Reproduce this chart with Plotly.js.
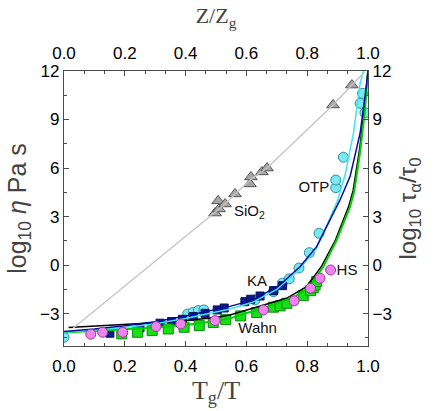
<!DOCTYPE html>
<html>
<head>
<meta charset="utf-8">
<script src="https://cdn.plot.ly/plotly-3.0.1.min.js"></script>
<style>
  html, body { margin: 0; padding: 0; background: #fff; }
  #plot { width: 435px; height: 411px; }
</style>
</head>
<body>
<div id="plot"></div>
<script>
// SiO2 (Arrhenius) points and guide line
var sioX = [0.497, 0.51, 0.507, 0.53, 0.5625, 0.612, 0.615, 0.651, 0.668, 0.885, 0.947];
var sioY = [3.22, 3.47, 3.97, 3.78, 4.4, 5.02, 5.45, 5.76, 6.0, 9.9, 11.13];
var sioLineX = [0.03, 0.497, 0.53, 0.5625, 0.615, 0.668, 0.885, 0.947, 0.99];
var sioLineY = [-3.9, 3.22, 3.78, 4.4, 5.3, 6.0, 9.9, 11.13, 11.95];

// OTP (cyan circles)
var otpX = [0, 0.407, 0.425, 0.442, 0.46, 0.628, 0.689, 0.718, 0.741, 0.773, 0.807, 0.839, 0.894, 0.894, 0.919, 0.99, 0.974, 0.982];
var otpY = [-4.46, -3.02, -2.92, -2.81, -2.77, -2.15, -1.64, -1.12, -0.85, -0.18, 0.77, 1.97, 4.79, 5.26, 6.67, 9.42, 10.0, 10.62];

// KA (navy squares)
var kaX = [0.151, 0.25, 0.316, 0.354, 0.39, 0.425, 0.464, 0.504, 0.527, 0.595, 0.614, 0.645, 0.689, 0.719];
var kaY = [-4.21, -3.88, -3.59, -3.49, -3.35, -3.18, -2.98, -2.77, -2.65, -2.26, -2.11, -1.91, -1.58, -1.27];

// Wahn (green squares)
var wahnX = [0.19, 0.242, 0.29, 0.343, 0.395, 0.445, 0.491, 0.532, 0.581, 0.634, 0.689, 0.711, 0.733, 0.787, 0.811, 0.82, 0.826, 0.831];
var wahnY = [-4.25, -4.15, -4.05, -3.95, -3.84, -3.74, -3.55, -3.37, -3.14, -2.93, -2.6, -2.52, -2.36, -1.89, -1.58, -1.4, -1.23, -1.02];

// HS (violet circles)
var hsX = [0.088, 0.127, 0.193, 0.303, 0.384, 0.497, 0.656, 0.757, 0.811, 0.842, 0.877];
var hsY = [-4.27, -4.15, -4.15, -3.8, -3.64, -3.43, -2.77, -2.21, -1.43, -0.81, -0.3];

// model curves
var blackX = [0.015, 0.1, 0.2, 0.3, 0.4, 0.5, 0.546, 0.623, 0.7, 0.732, 0.798, 0.848, 0.893, 0.936, 0.951, 0.972, 0.988, 1.0];
var blackY = [-3.86, -3.78, -3.68, -3.56, -3.42, -3.24, -3.08, -2.67, -2.25, -2.05, -1.33, -0.05, 1.55, 3.6, 4.6, 7.12, 9.6, 12];
var greenX = [0, 0.1, 0.2, 0.3, 0.4, 0.5, 0.546, 0.62, 0.7, 0.76, 0.809, 0.853, 0.897, 0.941, 0.955, 0.975, 0.99, 1.0];
var greenY = [-4.17, -4.08, -3.97, -3.85, -3.7, -3.45, -3.29, -2.85, -2.38, -1.95, -1.33, -0.1, 1.55, 3.6, 4.6, 7.12, 9.6, 12];
var navyX = [0, 0.1, 0.2, 0.3, 0.4, 0.5, 0.546, 0.623, 0.71, 0.776, 0.831, 0.875, 0.908, 0.941, 0.974, 0.99, 1.0];
var navyY = [-4.1, -3.95, -3.75, -3.5, -3.15, -2.72, -2.55, -2.15, -1.23, -0.1, 1.14, 2.8, 4.03, 5.47, 8.15, 10.4, 12];
var cyanX = [0, 0.1, 0.2, 0.3, 0.4, 0.5, 0.55, 0.62, 0.7, 0.77, 0.83, 0.87, 0.9, 0.925, 0.952, 0.974, 0.985];
var cyanY = [-4.15, -4.02, -3.85, -3.62, -3.3, -2.9, -2.7, -2.3, -1.5, -0.35, 1.0, 2.7, 4.0, 5.6, 8.15, 11.24, 12];

// text labels
var labelText = ['SiO<sub>2</sub>', 'OTP', 'KA', 'HS', 'Wahn'];
var labelX = [0.61, 0.822, 0.635, 0.931, 0.637];
var labelY = [3.29, 4.77, -1.04, -0.36, -3.95];

var yTicks = [-3, 0, 3, 6, 9, 12];
var xTicks = [0, 0.2, 0.4, 0.6, 0.8, 1.0];

function line(x, y, color, width, axes) {
    var t = {x: x, y: y, mode: 'lines', type: 'scatter', hoverinfo: 'skip',
        line: {color: color, width: width}, showlegend: false};
    if (axes) { t.xaxis = 'x2'; t.yaxis = 'y2'; }
    return t;
}
function pts(x, y, symbol, fill, edge, size) {
    return {x: x, y: y, mode: 'markers', type: 'scatter', showlegend: false,
        marker: {symbol: symbol, color: fill, size: size, line: {color: edge, width: 1}}};
}

var traces = [
    line(sioLineX, sioLineY, '#c4c4c4', 1.3, true),
    pts(sioX, sioY, 'triangle-up', '#a6a6a6', '#555555', 11),
    pts(otpX, otpY, 'circle', '#7ae8f0', '#2f8fa0', 10),
    pts(kaX, kaY, 'square', '#0b1a8c', '#06105a', 8),
    pts(wahnX, wahnY, 'square', '#16e016', '#0a8a0a', 10),
    line(blackX, blackY, '#000000', 1.5),
    line(greenX, greenY, '#00d000', 2),
    line(cyanX, cyanY, '#3ee6f2', 1.5),
    line(navyX, navyY, '#0a0a9c', 1.5),
    pts(hsX, hsY, 'circle', '#ee82ee', '#9a3a9a', 10),
    {x: labelX, y: labelY, text: labelText, mode: 'text', type: 'scatter', showlegend: false,
        hoverinfo: 'skip', textfont: {family: 'Liberation Sans, Arial', size: 15, color: '#111'}}
];

var axisLine = '#4a4a4a';
var tickFont = {family: 'Liberation Sans, Arial', size: 17, color: '#000'};
function xAxis(extra) {
    var a = {range: [0, 1], tickvals: xTicks, ticktext: ['0.0', '0.2', '0.4', '0.6', '0.8', '1.0'],
        ticks: 'inside', ticklen: 5, tickcolor: axisLine, showline: true, linecolor: axisLine, linewidth: 1.2,
        showgrid: false, zeroline: false, tickfont: tickFont, ticklabelstandoff: 4,
        minor: {dtick: 0.2 / 3, tick0: 0, ticks: 'inside', ticklen: 3, tickcolor: axisLine, showgrid: false}};
    for (var k in extra) a[k] = extra[k];
    return a;
}
function yAxis(extra) {
    var a = {range: [-5, 12], tickvals: yTicks, ticks: 'inside', ticklen: 5, tickcolor: axisLine,
        showline: true, linecolor: axisLine, linewidth: 1.2, showgrid: false, zeroline: false, tickfont: tickFont,
        minor: {dtick: 1.5, tick0: 0, ticks: 'inside', ticklen: 3, tickcolor: axisLine, showgrid: false}};
    for (var k in extra) a[k] = extra[k];
    return a;
}

var layout = {
    width: 435, height: 411,
    margin: {l: 64, r: 67, t: 71, b: 65},
    paper_bgcolor: '#fff', plot_bgcolor: '#fff',
    xaxis: xAxis({title: {text: 'T<sub>g</sub>/T', font: {family: 'Liberation Serif', size: 26}, standoff: 2}}),
    xaxis2: xAxis({overlaying: 'x', side: 'top', anchor: 'y',
        title: {text: 'Z/Z<sub>g</sub>', font: {family: 'Liberation Serif', size: 22}, standoff: 14}}),
    yaxis: yAxis({title: {text: 'log<sub>10</sub> <i>η</i> Pa s', font: {family: 'Liberation Sans, Arial', size: 25}, standoff: 6}}),
    yaxis2: yAxis({overlaying: 'y', side: 'right', anchor: 'x',
        title: {text: 'log<sub>10</sub> τ<sub>α</sub>/τ<sub>0</sub>', font: {family: 'Liberation Sans, Arial', size: 24}, standoff: 8}})
};

Plotly.newPlot('plot', traces, layout, {displayModeBar: false, staticPlot: true});
</script>
</body>
</html>
